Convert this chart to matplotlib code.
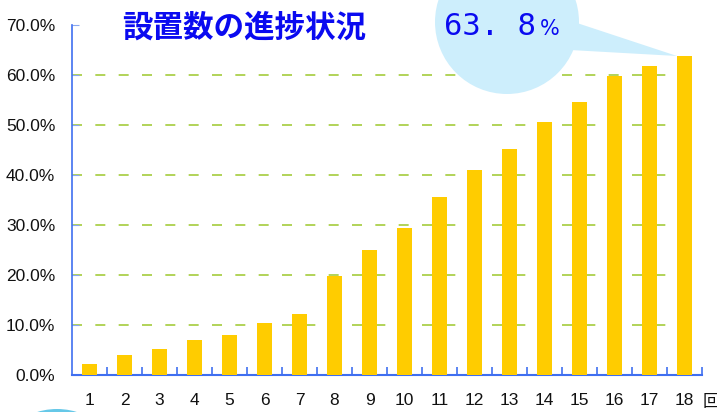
import numpy as np
import matplotlib
matplotlib.use("Agg")
from matplotlib import pyplot as plt
from matplotlib import patches as mpatches
from matplotlib.transforms import IdentityTransform

# datos
rondas = list(range(1, 19))
porcentajes = [2.2, 4.0, 5.2, 7.0, 8.0, 10.4, 12.2, 19.9, 25.1, 29.5,
               35.7, 41.1, 45.3, 50.7, 54.7, 59.9, 61.9, 63.8]
etiquetas_y = ["0.0%", "10.0%", "20.0%", "30.0%", "40.0%", "50.0%", "60.0%", "70.0%"]
titulo = "設置数の進捗状況"
unidad = "回"

ancho = 0.43
azul_eje = "#3f6ff0"

fig = plt.figure(figsize=(7.17, 4.12), dpi=100)
ax = fig.add_axes([72 / 717, 37 / 412, 630 / 717, 350 / 412])

ax.bar(rondas, porcentajes, width=ancho, color="#ffcc00", zorder=3)

ax.set_xlim(0.5, 18.5)
ax.set_ylim(0, 70)

# rejilla
for v in range(10, 70, 10):
    ax.axhline(v, xmax=0.985, color="#a4cc3c", lw=1.2, dashes=(6, 8), zorder=1)

for s in ["top", "right"]:
    ax.spines[s].set_visible(False)
ax.spines["left"].set_color(azul_eje)
ax.spines["bottom"].set_color(azul_eje)
ax.spines["left"].set_linewidth(1.2)
ax.spines["bottom"].set_linewidth(1.5)

ax.set_yticks(range(0, 80, 10))
ax.set_yticklabels(etiquetas_y, family="Liberation Sans", fontsize=12.5, color="#111111")
ax.tick_params(axis="y", direction="in", length=5, color="#8aa8f0", pad=12)

limites = np.arange(1.5, 19, 1.0)
ax.set_xticks(limites)
ax.set_xticklabels([])
ax.tick_params(axis="x", direction="in", length=6, color=azul_eje, width=1.2)
for r in rondas:
    ax.text(r, -3.6, str(r), ha="center", va="top", fontsize=12.5,
            family="Liberation Sans", color="#111111")
ax.text(18.53, -3.6, unidad, ha="left", va="top", fontsize=12.5,
        family="Noto Sans CJK JP", color="#111111", clip_on=False)

fig.text(122 / 717, 1 - 28 / 412, titulo, fontsize=22, fontweight="bold",
         color="#0a0af0", family="Noto Sans CJK JP", va="center", ha="left")

# globo
fig.canvas.draw()
pix = IdentityTransform()
celeste = "#cdeefc"
cx, cy, radio = 507, 412 - 22, 72
punta = ax.transData.transform((rondas[-1] - ancho / 2, porcentajes[-1]))
cola = mpatches.Polygon([(574, 412 - 22), (570, 412 - 50), punta],
                        closed=True, fc=celeste, ec="none", transform=pix)
circulo = mpatches.Circle((cx, cy), radio, fc=celeste, ec="none", transform=pix)
fig.patches.extend([cola, circulo])

fig.text(444 / 717, 1 - 35 / 412, "63. 8", fontsize=22, color="#0a0af0",
         family="DejaVu Sans Mono", va="baseline", ha="left")
fig.text(540 / 717, 1 - 35 / 412, "%", fontsize=15, color="#0a0af0",
         family="DejaVu Sans", va="baseline", ha="left")

# circulo inferior
abajo = mpatches.Circle((57, -65), 68, fc="#66c8e8", ec="none", transform=pix)
fig.patches.append(abajo)

fig.savefig("out.png", dpi=100)
